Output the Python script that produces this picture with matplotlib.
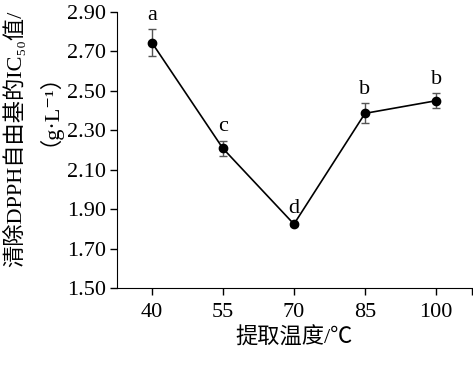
import matplotlib
matplotlib.use('Agg')
import matplotlib.pyplot as plt

# extraction temperature (℃) vs IC50 of DPPH scavenging
temp = [40, 55, 70, 85, 100]
ic50 = [2.745, 2.208, 1.824, 2.386, 2.450]
err = [0.068, 0.040, 0.008, 0.050, 0.038]
letters = ['a', 'c', 'd', 'b', 'b']
yticks = [1.50, 1.70, 1.90, 2.10, 2.30, 2.50, 2.70, 2.90]

plt.rcParams['font.family'] = ['Liberation Serif', 'Noto Sans CJK SC', 'DejaVu Serif']

fig = plt.figure(figsize=(4.73, 3.65), dpi=100)
ax = fig.add_axes([0.247, 0.211, 0.751, 0.756])

ax.errorbar(temp, ic50, yerr=err, fmt='-o', color='black', ecolor='#555555',
            elinewidth=1.0, capsize=3, capthick=1.0, markersize=6, linewidth=1.2)

for x, y, e, t in zip(temp, ic50, err, letters):
    ax.annotate(t, (x, y + e), xytext=(0, 3), textcoords='offset points',
                ha='center', va='bottom', fontsize=16)

ax.set_xlim(32.6, 107.6)
ax.set_ylim(1.50, 2.90)
ax.set_xticks(temp)
ax.set_xticks([107.6], minor=True)
ax.set_yticks(yticks)
ax.set_yticklabels(['%.2f' % v for v in yticks])

for s in ['top', 'right']:
    ax.spines[s].set_visible(False)
ax.tick_params(axis='both', which='both', direction='out', length=5, width=1, labelsize=16)
ax.tick_params(axis='y', pad=3)
ax.tick_params(axis='x', pad=6)

ax.set_xlabel('提取温度/℃', fontsize=16, labelpad=4)
# y label in two rotated lines
fig.text(0.032, 0.62, '清除DPPH自由基的IC₅₀值/', rotation=90, fontsize=16,
         ha='center', va='center')
fig.text(0.080, 0.73, '（g·L⁻¹）', rotation=90, fontsize=16,
         ha='center', va='center')

fig.savefig('out.png', dpi=100)
